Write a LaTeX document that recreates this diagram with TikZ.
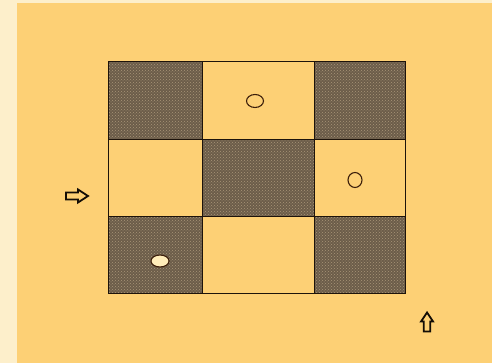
\documentclass[tikz,border=0pt]{standalone}
\usetikzlibrary{patterns,shapes.geometric}
\definecolor{bgorange}{RGB}{253,208,117}
\definecolor{cream}{RGB}{253,239,203}
\definecolor{darkcell}{RGB}{108,93,74}
\definecolor{dotcol}{RGB}{170,150,120}
\definecolor{ringcol}{RGB}{60,30,10}
\definecolor{pale}{RGB}{255,236,185}
\tikzset{
  gridline/.style={draw=black!85!brown, line width=1pt},
  darkbox/.style={fill=darkcell, postaction={pattern=crosshatch dots, pattern color=dotcol}},
  ring/.style={draw=ringcol, line width=1.1pt},
  fatarrow/.style={draw=black!90!brown, fill=bgorange, line width=1.8pt, line join=miter},
}
\begin{document}
\begin{tikzpicture}[x=1pt,y=-1pt]
\useasboundingbox (0,0) rectangle (492,363);
\fill[cream] (0,0) rectangle (492,363);
\fill[bgorange] (17,3) rectangle (492,363);
% columns: 108,202,314,405 ; rows: 62,140,217,293
\fill[darkbox] (108,62) rectangle (202,140);
\fill[darkbox] (314,62) rectangle (405,140);
\fill[darkbox] (202,140) rectangle (314,217);
\fill[darkbox] (108,217) rectangle (202,293);
\fill[darkbox] (314,217) rectangle (405,293);
\draw[gridline] (108,62) rectangle (405,293);
\draw[gridline] (202,62) -- (202,293);
\draw[gridline] (314,62) -- (314,293);
\draw[gridline] (108,140) -- (405,140);
\draw[gridline] (108,217) -- (405,217);
\node[ring, ellipse, minimum width=17pt, minimum height=13pt, inner sep=0pt] (o1) at (255,101) {};
\node[ring, ellipse, minimum width=14pt, minimum height=15pt, inner sep=0pt] (o2) at (355,180) {};
\node[ring, fill=pale, ellipse, minimum width=18pt, minimum height=12pt, inner sep=0pt] (o3) at (160,261) {};
% right-pointing white arrow
\draw[fatarrow] (66,192.5) -- (78,192.5) -- (78,189.5) -- (88,196) -- (78,202.5) -- (78,199.5) -- (66,199.5) -- cycle;
% up-pointing white arrow
\draw[fatarrow] (423.8,331.5) -- (423.8,321.5) -- (421,321.5) -- (427,312.5) -- (433,321.5) -- (430.2,321.5) -- (430.2,331.5) -- cycle;
\end{tikzpicture}
\end{document}
